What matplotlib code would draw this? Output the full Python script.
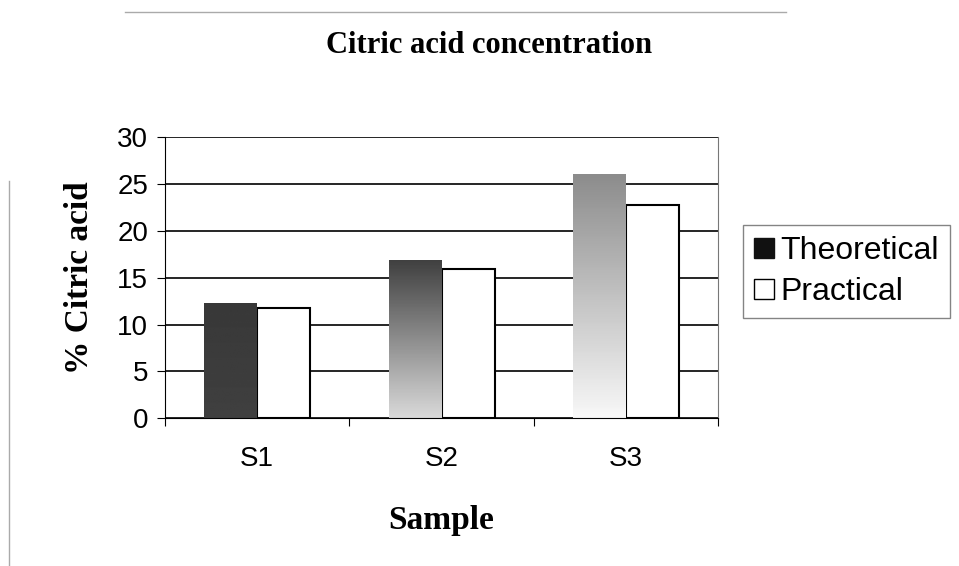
import numpy as np
import matplotlib.pyplot as plt
from matplotlib.lines import Line2D
from matplotlib.patches import Patch

samples = ['S1', 'S2', 'S3']
theoretical = [12.3, 16.9, 26.0]
practical = [11.8, 15.9, 22.7]
# shade ranges (top, bottom) for the textured theoretical bars
shade_top = [0.22, 0.25, 0.55]
shade_bottom = [0.25, 0.85, 0.97]

fig = plt.figure(figsize=(9.59, 5.66), dpi=100)
ax = fig.add_axes([0.172, 0.261, 0.577, 0.497])

x = np.arange(len(samples))
w = 0.287
bars_t = ax.bar(x - w / 2, theoretical, w, color='#555555', zorder=2)
bars_p = ax.bar(x + w / 2, practical, w, color='white', edgecolor='black',
                linewidth=1.5, zorder=2)

# gradient fill for theoretical bars
for b, t0, t1 in zip(bars_t, shade_top, shade_bottom):
    x0, y0 = b.get_x(), b.get_y()
    x1, y1 = x0 + b.get_width(), y0 + b.get_height()
    grad = np.linspace(t0, t1, 100).reshape(-1, 1)
    im = ax.imshow(grad, cmap='gray', vmin=0, vmax=1, aspect='auto',
                   extent=[x0, x1, y0, y1], origin='upper', zorder=2.5)
    im.set_clip_path(b)
    b.set_facecolor('none')

ax.set_xlim(-0.5, 2.5)
ax.set_ylim(0, 30)
ax.set_yticks(range(0, 31, 5))
ax.set_xticks([-0.5, 0.5, 1.5, 2.5], minor=False)
ax.set_xticklabels([])
ax.set_xticks(x, minor=True)
ax.set_xticklabels(samples, minor=True)
ax.tick_params(axis='x', which='minor', length=0, pad=20, labelsize=20)
ax.tick_params(axis='x', which='major', length=6, direction='out')
ax.tick_params(axis='y', length=6, direction='out', labelsize=20, pad=6)
for lbl in ax.get_xticklabels(minor=True) + ax.get_yticklabels():
    lbl.set_fontfamily('Liberation Sans')

ax.grid(axis='y', color='black', linewidth=1.2, zorder=0)
ax.set_axisbelow(True)
ax.spines['right'].set_color('#777777')
ax.spines['top'].set_visible(False)

serif = 'Liberation Serif'
fig.text(0.51, 0.92, 'Citric acid concentration', ha='center', va='center',
         fontsize=22, fontweight='bold', family=serif)
ax.set_ylabel('% Citric acid', fontsize=24, fontweight='bold', family=serif,
              labelpad=16)
ax.set_xlabel('Sample', fontsize=24, fontweight='bold', family=serif,
              labelpad=24)

handles = [Patch(facecolor='#111111', edgecolor='#111111'),
           Patch(facecolor='white', edgecolor='black')]
leg = fig.legend(handles, ['Theoretical', 'Practical'], loc='center left',
                 bbox_to_anchor=(0.775, 0.52), fontsize=23, frameon=True,
                 fancybox=False, edgecolor='#666666', handlelength=0.6,
                 handleheight=0.6, handletextpad=0.2, labelspacing=0.35,
                 borderpad=0.35, borderaxespad=0)
for t in leg.get_texts():
    t.set_fontfamily('Liberation Sans')

# faint outer chart border
fig.add_artist(Line2D([0.13, 0.82], [0.978, 0.978], color='#aaaaaa', lw=1))
fig.add_artist(Line2D([0.009, 0.009], [0.0, 0.68], color='#aaaaaa', lw=1))

fig.savefig('out.png', dpi=100)
